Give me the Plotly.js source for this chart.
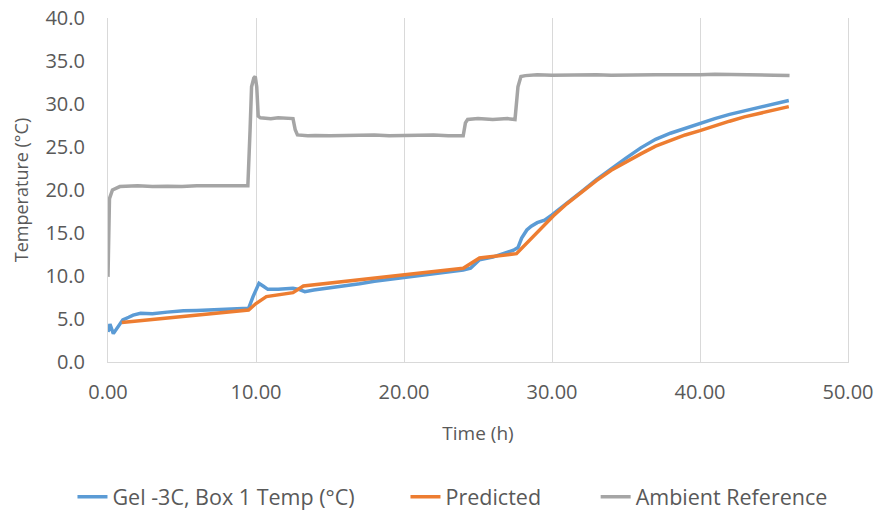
<!DOCTYPE html>
<html>
<head>
<meta charset="utf-8">
<script src="https://cdn.plot.ly/plotly-3.0.1.min.js"></script>
<style>html,body{margin:0;padding:0;background:#fff;}#chart{width:879px;height:510px;}</style>
</head>
<body>
<div id="chart"></div>
<script>
// Series names
const seriesNames = ["Gel -3C, Box 1 Temp (\u00B0C)", "Predicted", "Ambient Reference"];

// Gel -3C, Box 1 Temp (°C)
const gelTime = [0, 0.13, 0.36, 0.6, 1.0, 1.4, 1.7, 2.2, 3.0, 4.0, 5.1, 6.0, 7.0, 8.0, 9.0, 9.5, 9.8, 10.2, 10.5, 10.8, 11.5, 12.5, 12.9, 13.3, 13.9, 15, 16, 17, 18, 19, 20, 21, 22, 23, 24, 24.5, 25.1, 26, 26.9, 27.4, 27.7, 27.95, 28.3, 28.6, 29.0, 29.5, 30, 31, 32, 33, 34, 35, 36, 37, 38, 39, 40, 41, 42, 43, 44, 45, 46];
const gelTemp = [3.5, 4.4, 3.3, 3.9, 4.9, 5.2, 5.45, 5.66, 5.6, 5.8, 5.97, 6.0, 6.05, 6.1, 6.2, 6.24, 7.6, 9.15, 8.8, 8.45, 8.45, 8.57, 8.45, 8.18, 8.37, 8.6, 8.9, 9.1, 9.4, 9.6, 9.9, 10.1, 10.3, 10.5, 10.7, 10.9, 11.9, 12.2, 12.7, 13.0, 13.3, 14.4, 15.35, 15.8, 16.2, 16.5, 17.1, 18.4, 19.8, 21.2, 22.5, 23.7, 24.9, 25.9, 26.6, 27.2, 27.75, 28.3, 28.8, 29.2, 29.6, 30.0, 30.4];

// Predicted
const predTime = [0.93, 9.5, 10.0, 10.7, 12.5, 13.2, 24.0, 25.1, 27.6, 28.5, 29.3, 30.1, 31, 32, 33, 34, 35, 36, 37, 38, 39, 40, 41, 42, 43, 44, 45, 46];
const predTemp = [4.6, 6.05, 6.8, 7.6, 8.06, 8.84, 10.9, 12.1, 12.6, 14.2, 15.6, 17.0, 18.4, 19.8, 21.1, 22.3, 23.3, 24.2, 25.1, 25.8, 26.4, 26.9, 27.5, 28.0, 28.5, 28.9, 29.3, 29.7];

// Ambient Reference
const ambTime = [0, 0.1, 0.3, 0.8, 2, 3, 4, 5, 6, 7, 8, 9, 9.45, 9.6, 9.7, 9.85, 9.95, 10.05, 10.15, 10.3, 11, 11.5, 12, 12.5, 12.65, 12.8, 13.5, 14, 15, 16, 17, 18, 19, 20, 21, 22, 23, 24.0, 24.15, 24.3, 25, 26, 27, 27.5, 27.7, 27.9, 28.2, 29, 30, 31, 32, 33, 34, 35, 36, 37, 38, 39, 40, 41, 42, 43, 44, 45, 46.05];
const ambTemp = [9.9, 19.0, 20.0, 20.4, 20.5, 20.4, 20.45, 20.4, 20.5, 20.45, 20.5, 20.5, 20.5, 27.0, 32.0, 33.0, 33.2, 32.0, 28.6, 28.4, 28.3, 28.4, 28.3, 28.3, 27.0, 26.4, 26.3, 26.35, 26.3, 26.35, 26.3, 26.4, 26.3, 26.35, 26.3, 26.4, 26.3, 26.3, 27.8, 28.2, 28.3, 28.2, 28.3, 28.2, 32.0, 33.2, 33.3, 33.4, 33.35, 33.4, 33.45, 33.4, 33.35, 33.4, 33.45, 33.4, 33.4, 33.35, 33.4, 33.45, 33.4, 33.35, 33.4, 33.35, 33.3];

// Axis ticks
const xTicks = [0, 10, 20, 30, 40, 50];
const xTickLabels = ["0.00", "10.00", "20.00", "30.00", "40.00", "50.00"];
const yTicks = [0, 5, 10, 15, 20, 25, 30, 35, 40];
const yTickLabels = ["0.0", "5.0", "10.0", "15.0", "20.0", "25.0", "30.0", "35.0", "40.0"];

const colors = ["#5B9BD5", "#ED7D31", "#A5A5A5"];
const fontFam = "'Open Sans', sans-serif";
const textCol = "#595959";

const traces = [
  {x: gelTime, y: gelTemp, name: seriesNames[0], mode: "lines", line: {color: colors[0], width: 3.5}, legend: "legend"},
  {x: predTime, y: predTemp, name: seriesNames[1], mode: "lines", line: {color: colors[1], width: 3.5}, legend: "legend2"},
  {x: ambTime, y: ambTemp, name: seriesNames[2], mode: "lines", line: {color: colors[2], width: 3.5}, legend: "legend3"}
];

function legendAt(xPaper) {
  return {orientation: "h", x: xPaper, xanchor: "left", y: -0.392, yanchor: "middle",
          font: {family: fontFam, size: 21.5, color: textCol}, bgcolor: "rgba(0,0,0,0)"};
}

const layout = {
  width: 879, height: 510,
  margin: {l: 108, r: 31, t: 18, b: 148, autoexpand: false},
  paper_bgcolor: "#fff", plot_bgcolor: "#fff",
  font: {family: fontFam, color: textCol, size: 19},
  showlegend: true,
  legend: legendAt(-0.048),
  legend2: legendAt(0.402),
  legend3: legendAt(0.659),
  xaxis: {range: [0, 50], tickvals: xTicks, ticktext: xTickLabels, showgrid: true, gridcolor: "#D9D9D9", gridwidth: 1,
          zeroline: false, showline: true, linecolor: "#D9D9D9", linewidth: 1, ticks: "", ticklabelstandoff: 12,
          tickfont: {size: 20, color: textCol}, title: {text: "Time (h)", font: {size: 19, color: textCol}, standoff: 22}},
  yaxis: {range: [0, 40], tickvals: yTicks, ticktext: yTickLabels, showgrid: false, zeroline: false,
          showline: true, mirror: true, linecolor: "#D9D9D9", linewidth: 1, ticks: "", ticklabelstandoff: 18,
          tickfont: {size: 20, color: textCol}, title: {text: "Temperature (\u00B0C)", font: {size: 18, color: textCol}, standoff: 12}}
};

Plotly.newPlot("chart", traces, layout, {displayModeBar: false, staticPlot: true});
</script>
</body>
</html>
